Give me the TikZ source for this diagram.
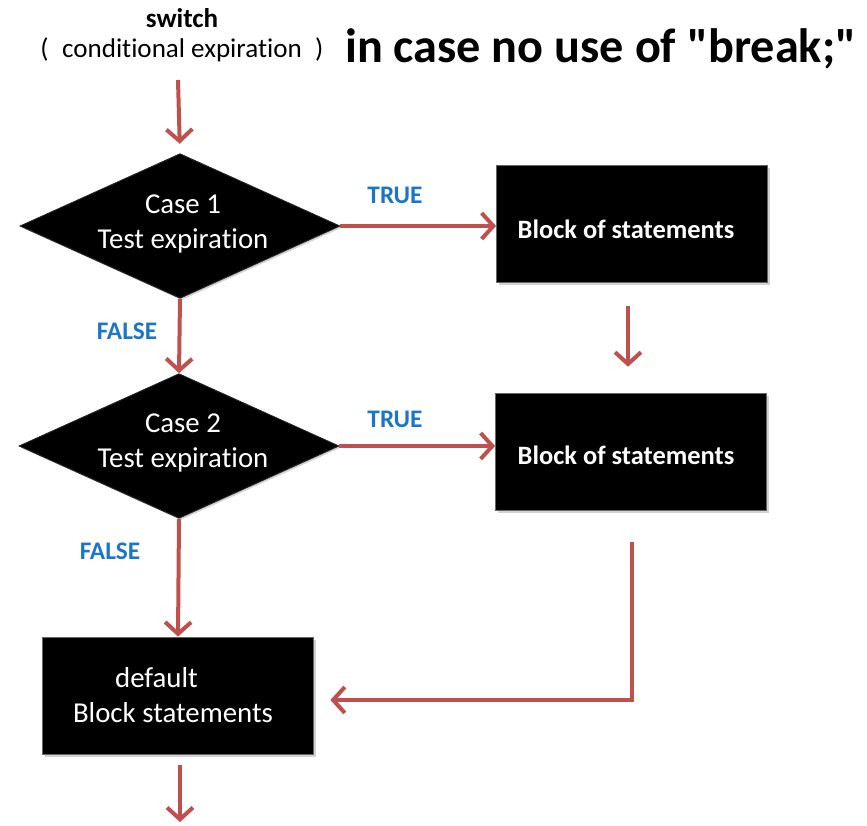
\documentclass[tikz,border=0pt]{standalone}
\usepackage{fontspec}
\setmainfont{Carlito}[Ligatures={NoCommon,NoContextual}]
\usetikzlibrary{arrows.meta,shadows,shapes.geometric}
\definecolor{flowred}{RGB}{192,80,77}
\definecolor{labelblue}{RGB}{28,118,200}
\begin{document}
\begin{tikzpicture}[x=0.85pt,y=-0.85pt,
  flow/.style={draw=flowred, line width=3.4pt,
    -{Straight Barb[length=10pt,width=22pt,line width=3.4pt]}},
  decision/.style={diamond, fill=black, draw=black!85, line width=0.8pt,
    inner sep=0pt, minimum width=272pt, minimum height=123pt,
    drop shadow={opacity=0.35, shadow xshift=1.5pt, shadow yshift=-1.5pt}},
  stmtbox/.style={rectangle, fill=black, draw=black!60, line width=1pt,
    minimum width=230pt, minimum height=100pt, inner sep=0pt,
    drop shadow={opacity=0.35, shadow xshift=2pt, shadow yshift=-2pt}},
  boxtext/.style={text=white, font=\fontsize{24.5}{30}\selectfont, align=center},
  boldtext/.style={text=white, font=\bfseries\fontsize{22.5}{26}\selectfont},
  answer/.style={text=labelblue, font=\bfseries\fontsize{21.5}{24}\selectfont},
  heading/.style={font=\fontsize{23}{26}\selectfont},
]
\useasboundingbox (0,0) rectangle (867,826);

% heading
\node[heading] (sw) at (182,18) {\bfseries switch};
\node[heading] (cond) at (182,50) {(\enspace conditional expiration\enspace)};
\node[anchor=west] (note) at (341,49) {\fontsize{41}{46}\selectfont\bfseries in case no use of \textquotedbl break;\textquotedbl};
\coordinate (start) at (178,80);

% decisions
\node[decision] (d1) at (180,226) {};
\node[boxtext] (d1t) at (183,224) {Case 1\\Test expiration};
\node[decision] (d2) at (179,446) {};
\node[boxtext] (d2t) at (183,443) {Case 2\\Test expiration};

% statement blocks
\node[stmtbox] (b1) at (632,224) {};
\node[boldtext] (b1t) at (626,229) {Block of statements};
\node[stmtbox] (b2) at (631,452) {};
\node[boldtext] (b2t) at (626,455) {Block of statements};
\node[stmtbox] (b3) at (178,696) {};
\node[boxtext] (b3t) at (173,695) {default\hspace*{28pt}\\Block statements};

% branch labels
\node[answer] (t1) at (395,195) {TRUE};
\node[answer] (t2) at (395,419) {TRUE};
\node[answer] (f1) at (127,331) {FALSE};
\node[answer] (f2) at (110,551) {FALSE};

% connectors
\coordinate (join) at (632,542);
\coordinate (corner) at (632,700);
\coordinate (exit) at (180,822);
\draw[flow, shorten >=8pt] (start) -- (d1.north);
\draw[flow] (d1.east) -- (d1.east -| b1.west);
\draw[flow] (d1.south) -- (d2.north);
\draw[flow] (d2.east) -- (d2.east -| b2.west);
\draw[flow] (d2.south) -- (b3.north);
\draw[flow, shorten <=19pt, shorten >=22pt] (b1.south -| 628,0) -- (b2.north -| 628,0);
\draw[flow, shorten >=14pt] (join) -- (corner) -- (b3.east |- corner);
\draw[flow, shorten <=8pt] (b3.south -| exit) -- (exit);
\end{tikzpicture}
\end{document}
